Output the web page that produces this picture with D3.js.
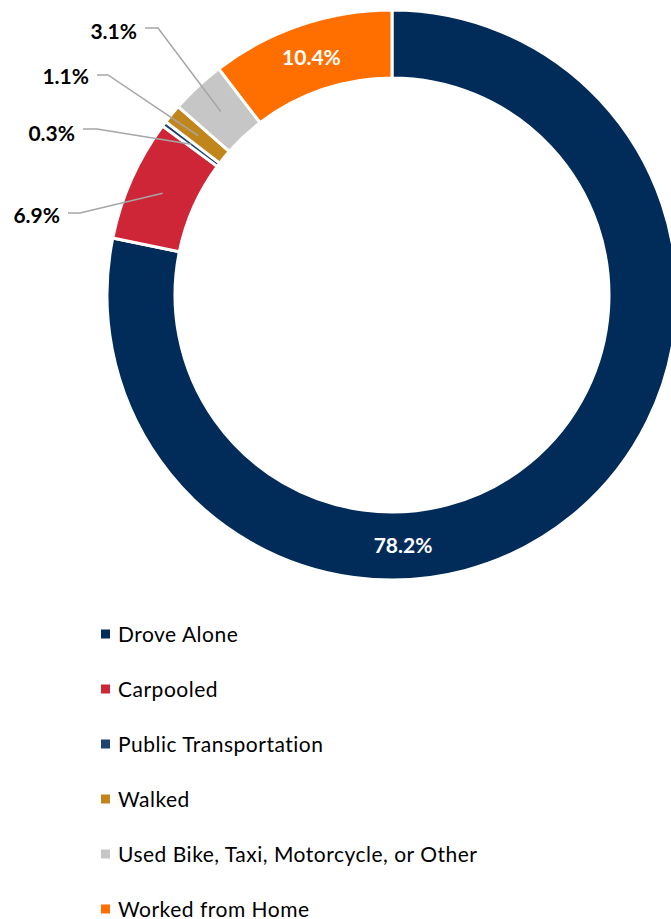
<!DOCTYPE html>
<html>
<head>
<meta charset="utf-8">
<script src="https://cdn.jsdelivr.net/npm/d3@7"></script>
<style>
  html, body { margin: 0; padding: 0; background: #fff; }
  svg { display: block; }
</style>
</head>
<body>
<svg id="chart" width="671" height="919"></svg>
<script>
// Commute mode shares (percent of workers)
const modes = ["Drove Alone", "Carpooled", "Public Transportation", "Walked", "Used Bike, Taxi, Motorcycle, or Other", "Worked from Home"];
const shares = [78.2, 6.9, 0.3, 1.1, 3.1, 10.4];
const colors = ["#012b59", "#cf2637", "#1f426f", "#c0861c", "#c6c6c6", "#ff6f00"];

const cx = 392, cy = 295;
const outerR = 285, innerR = 217;

const svg = d3.select("#chart");
const g = svg.append("g").attr("transform", `translate(${cx},${cy})`);

const data = modes.map((m, i) => ({ mode: m, value: shares[i], color: colors[i] }));

const pie = d3.pie().value(d => d.value).sort(null);
const arcs = pie(data);
const arc = d3.arc().innerRadius(innerR).outerRadius(outerR);
const midR = (innerR + outerR) / 2;

g.selectAll("path.slice")
  .data(arcs)
  .join("path")
  .attr("class", "slice")
  .attr("d", arc)
  .attr("fill", d => d.data.color)
  .attr("stroke", "#fff")
  .attr("stroke-width", 3)
  .attr("stroke-linejoin", "miter");

const fmt = v => v.toFixed(1) + "%";
const labelFont = "Lato, 'Liberation Sans', sans-serif";

// In-ring labels (white) for the two large slices;
// the Drove Alone label sits near the bottom of the ring
const inside = [
  { i: 0, angle: Math.PI * 0.986 },
  { i: 5, angle: null }
];
inside.forEach(o => {
  const a = arcs[o.i];
  const p = o.angle === null
    ? arc.centroid(a)
    : [midR * Math.sin(o.angle), -midR * Math.cos(o.angle)];
  g.append("text")
    .attr("x", p[0]).attr("y", p[1] + 7.5)
    .attr("text-anchor", "middle")
    .attr("fill", "#fff")
    .attr("font-family", labelFont)
    .attr("font-weight", 700)
    .attr("font-size", 21)
    .text(fmt(a.data.value));
});

// Outside labels with leader lines (elbow point in page coordinates)
const callouts = [
  { i: 1, elbow: [80, 213], run: 12, dy: 10 },
  { i: 2, elbow: [97, 129], run: 14, dy: 12 },
  { i: 3, elbow: [108, 75], run: 11, dy: 9 },
  { i: 4, elbow: [158, 28], run: 13, dy: 11 }
];
callouts.forEach(c => {
  const a = arcs[c.i];
  const p = arc.centroid(a);
  const ex = c.elbow[0] - cx, ey = c.elbow[1] - cy;
  g.append("polyline")
    .attr("points", [[p[0], p[1]], [ex, ey], [ex - c.run, ey]].map(q => q.join(",")).join(" "))
    .attr("fill", "none")
    .attr("stroke", "#a6a6a6")
    .attr("stroke-width", 1.5);
  g.append("text")
    .attr("x", ex - c.run - 8)
    .attr("y", ey + c.dy)
    .attr("text-anchor", "end")
    .attr("fill", "#000")
    .attr("font-family", labelFont)
    .attr("font-weight", 700)
    .attr("font-size", 21)
    .text(fmt(a.data.value));
});

// Legend
const legendX = 101, legendY0 = 634, legendStep = 55;
const legend = svg.append("g");
const rows = legend.selectAll("g.row")
  .data(data)
  .join("g")
  .attr("class", "row")
  .attr("transform", (d, i) => `translate(${legendX},${legendY0 + i * legendStep})`);
rows.append("rect")
  .attr("x", 0).attr("y", -4.5)
  .attr("width", 9).attr("height", 9)
  .attr("fill", d => d.color);
rows.append("text")
  .attr("x", 17).attr("y", 7.5)
  .attr("fill", "#000")
  .attr("font-family", labelFont)
  .attr("font-size", 21)
  .attr("letter-spacing", 0.5)
  .text(d => d.mode);
</script>
</body>
</html>
